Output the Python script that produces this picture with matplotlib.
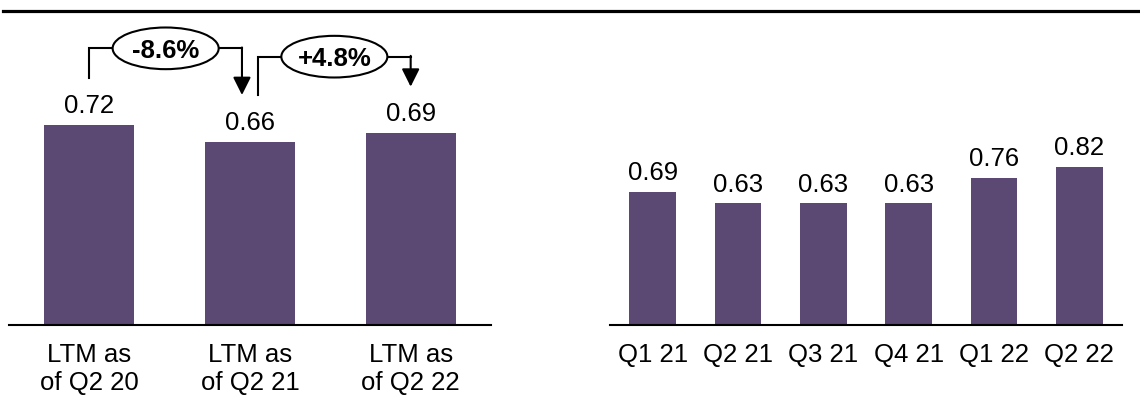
import matplotlib
matplotlib.use('Agg')
import matplotlib.pyplot as plt
from matplotlib.patches import Ellipse
from matplotlib.lines import Line2D

plt.rcParams['font.family'] = ['Liberation Sans', 'DejaVu Sans']

# data
ltm_labels = ['LTM as\nof Q2 20', 'LTM as\nof Q2 21', 'LTM as\nof Q2 22']
ltm_values = [0.72, 0.66, 0.69]
qtr_labels = ['Q1 21', 'Q2 21', 'Q3 21', 'Q4 21', 'Q1 22', 'Q2 22']
qtr_values = [0.69, 0.63, 0.63, 0.63, 0.76, 0.82]
changes = [(0, 1, '-8.6%'), (1, 2, '+4.8%')]

bar_color = '#5B4873'
fs = 18.5

fig = plt.figure(figsize=(11.4, 3.99), dpi=100)

# thick rule under the (cropped) title
fig.add_artist(Line2D([0.003, 1.0], [1 - 10.5 / 399] * 2, color='black', lw=2.3))

ax1 = fig.add_axes([9 / 1140, 74 / 399, 482 / 1140, 300 / 399])
ax2 = fig.add_axes([610 / 1140, 74 / 399, 512 / 1140, 300 / 399])


def style_axis(ax, labels, values, width, ymax):
    x = range(len(values))
    bars = ax.bar(x, values, width=width, color=bar_color)
    ax.bar_label(bars, labels=[f'{v:.2f}' for v in values], padding=5, fontsize=fs)
    ax.set_xticks(list(x))
    ax.set_xticklabels(labels, fontsize=fs, linespacing=1.2)
    ax.set_xlim(-0.5, len(values) - 0.5)
    ax.set_ylim(0, ymax)
    ax.set_yticks([])
    for s in ['top', 'right', 'left']:
        ax.spines[s].set_visible(False)
    ax.spines['bottom'].set_linewidth(1.5)
    ax.tick_params(axis='x', length=0, pad=13)


style_axis(ax1, ltm_labels, ltm_values, 0.56, 1.08)
style_axis(ax2, qtr_labels, qtr_values, 0.55, 1.555)

# change brackets between the LTM bars
for k, (i, j, txt) in enumerate(changes):
    xs = i + (0.05 if k > 0 else 0.0)
    xe = j - (0.05 if k < len(changes) - 1 else 0.0)
    y0 = ltm_values[i] + 0.169
    y1 = ltm_values[j] + 0.168
    top = max(ltm_values[i], ltm_values[j]) + 0.276
    ax1.plot([xs, xs, xe], [y0, top, top], color='black', lw=1.5,
             solid_joinstyle='miter', zorder=3, clip_on=False)
    ax1.annotate('', xy=(xe, y1), xytext=(xe, top + 0.003),
                 arrowprops=dict(arrowstyle='-|>,head_length=0.4,head_width=0.2',
                                 mutation_scale=27, lw=1.5, color='black',
                                 shrinkA=0, shrinkB=0),
                 zorder=3, annotation_clip=False)
    ell = Ellipse(((xs + xe) / 2, top), 0.66, 0.15, facecolor='white',
                  edgecolor='black', lw=1.5, zorder=4, clip_on=False)
    ax1.add_patch(ell)
    ax1.text((xs + xe) / 2, top, txt, ha='center', va='center_baseline',
             fontsize=fs, fontweight='bold', zorder=5)

fig.savefig('out.png', dpi=100)
